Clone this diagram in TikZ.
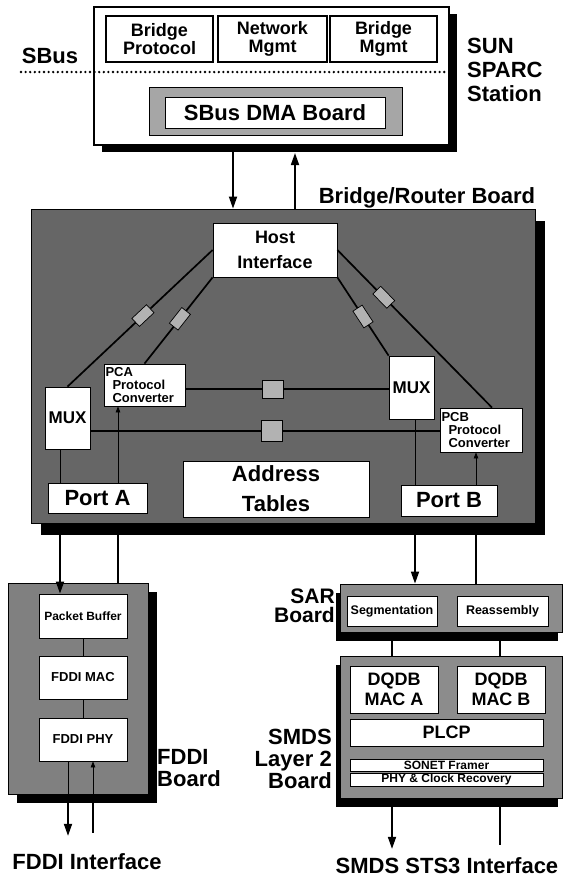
\documentclass[tikz,border=0pt]{standalone}
\usepackage{fontspec}
\setmainfont{Liberation Sans}
\usetikzlibrary{arrows.meta, shadows}

\newcommand{\fs}[2]{\fontsize{#1}{#2}\selectfont\bfseries}

\begin{document}
\begin{tikzpicture}[x=1pt, y=-1pt,
    box/.style={draw, fill=white, line width=0.8pt, inner sep=0pt, align=center},
    topbox/.style={box, line width=2.6pt, minimum height=46pt, font=\fs{18}{18}},
    board/.style={draw, line width=0.8pt, fill=black!55, inner sep=0pt},
    boardshadow/.style={drop shadow={shadow xshift=#1, shadow yshift=-9pt, fill=black, opacity=1}},
    lnk/.style={draw, line width=0.7pt, fill=black!30, minimum width=20pt, minimum height=11pt, inner sep=0pt},
    bus/.style={line width=1.7pt},
    wire/.style={line width=0.8pt},
    tip/.style={-{Triangle[length=12pt,width=8pt]}},
    smalltip/.style={-{Triangle[length=6pt,width=4.5pt]}},
    lbl/.style={inner sep=0pt, font=\fs{22}{22}}]

    \path[use as bounding box, fill=white] (0,0) rectangle (565,876);

    % columns of the vertical connectors
    \coordinate (ca) at (233,0);
    \coordinate (cb) at (295,0);
    \coordinate (cc) at (60,0);
    \coordinate (cd) at (118,0);
    \coordinate (ce) at (415,0);
    \coordinate (cf) at (476,0);
    \coordinate (cg) at (68,0);
    \coordinate (ch) at (93,0);
    \coordinate (ci) at (392,0);
    \coordinate (cj) at (500,0);
    \coordinate (ya) at (0,389);
    \coordinate (yb) at (0,431);

    % SUN SPARC station
    \node[draw, line width=2pt, fill=white, minimum width=355pt, minimum height=138pt,
          drop shadow={shadow xshift=8pt, shadow yshift=-7pt, fill=black, opacity=1}] (sun) at (271.5,76) {};
    \node[topbox, minimum width=107pt] (bp) at (159.5,39) {Bridge\\Protocol};
    \node[topbox, minimum width=109pt] (nm) at (272.5,39) {Network\\Mgmt};
    \node[topbox, minimum width=107pt] (bm) at (383.5,39) {Bridge\\Mgmt};
    \coordinate (sbl) at (21,72);
    \coordinate (sbr) at (445,72);
    \draw[line width=2.6pt, line cap=round, dash pattern=on 0pt off 4.6pt] (sbl) -- (sbr);
    \node[draw, line width=0.8pt, fill=black!35, minimum width=253pt, minimum height=48pt] (dma) at (275.5,111) {};
    \node[box, minimum width=220pt, minimum height=31pt, font=\fs{22}{22}] (dmab) at (275,112.5) {SBus DMA Board};

    \node[lbl, anchor=base] (sbus) at (50,63) {SBus};
    \node[lbl, anchor=north west, align=left, font=\fs{22}{24}] (sunl) at (467,38) {SUN\\SPARC\\Station};
    \node[lbl, anchor=base] (brl) at (427,203) {Bridge/Router Board};

    % bridge/router board
    \node[board, fill=black!60, minimum width=504pt, minimum height=314pt,
          drop shadow={shadow xshift=10pt, shadow yshift=-12pt, fill=black, opacity=1}] (brb) at (283,366) {};
    \node[box, minimum width=124pt, minimum height=54pt, font=\fs{18}{25}] (hif) at (275,250) {Host\\Interface};
    \node[box, minimum width=45pt, minimum height=62pt, font=\fs{17}{17}] (mux1) at (67.5,418) {MUX};
    \node[box, align=left, text width=78pt, minimum width=81pt, minimum height=42pt, font=\fs{13}{13}] (pca) at (144.5,385) {PCA\\\hspace*{7pt}Protocol\\\hspace*{7pt}Converter};
    \node[box, minimum width=45pt, minimum height=63pt, font=\fs{17}{17}] (mux2) at (411.5,387.5) {MUX};
    \node[box, align=left, text width=79pt, minimum width=82pt, minimum height=44pt, font=\fs{13}{13}] (pcb) at (481,430) {PCB\\\hspace*{7pt}Protocol\\\hspace*{7pt}Converter};
    \node[box, minimum width=99pt, minimum height=30pt, font=\fs{22}{22}] (porta) at (97.5,498) {Port A};
    \node[box, minimum width=96pt, minimum height=31pt, font=\fs{22}{22}] (portb) at (449,500.5) {Port B};
    \node[box, minimum width=186pt, minimum height=56pt, font=\fs{22}{30}] (addr) at (276,489) {Address\\Tables};

    \draw[bus] (hif.west) -- node[lnk, sloped, pos=.48] {} (mux1.north);
    \draw[bus] (hif.south west) -- node[lnk, sloped, pos=.48] {} (pca.north);
    \draw[bus] (hif.south east) -- node[lnk, sloped, pos=.5] {} (mux2.north west);
    \draw[bus] (hif.east) -- node[lnk, sloped, pos=.3] {} ([xshift=11pt]pcb.north);
    \draw[bus] (pca.east |- ya) -- node[lnk, minimum width=21pt, minimum height=18pt, pos=.43] (sqa) {} (mux2.west |- ya);
    \draw[bus] (mux1.east |- yb) -- node[lnk, minimum width=21pt, minimum height=21pt, pos=.52] (sqb) {} (pcb.west |- yb);
    \draw[wire] (mux1.south -| cc) -- (porta.north -| cc);
    \draw[wire, smalltip] (porta.north -| cd) -- (pca.south -| cd);
    \draw[wire] (mux2.south -| ce) -- (portb.north -| ce);
    \draw[wire, smalltip] (portb.north -| cf) -- (pcb.south -| cf);

    % FDDI board
    \node[board, fill=black!50, minimum width=140pt, minimum height=211pt,
          drop shadow={shadow xshift=9pt, shadow yshift=-9pt, fill=black, opacity=1}] (fddi) at (78,688.5) {};
    \node[box, minimum width=88pt, minimum height=44pt, font=\fs{12}{12}] (pb) at (83,616) {Packet Buffer};
    \node[box, minimum width=88pt, minimum height=43pt, font=\fs{13}{13}] (mac) at (83,677.5) {FDDI MAC};
    \node[box, minimum width=88pt, minimum height=43pt, font=\fs{13}{13}] (phy) at (83,739.5) {FDDI PHY};
    \draw[wire] (pb) -- (mac);
    \draw[wire] (mac) -- (phy);
    \node[lbl, anchor=north west, align=left] (fddil) at (157,749) {FDDI\\Board};
    \node[lbl, anchor=base] (fif) at (87,869) {FDDI Interface};

    % SAR board
    \node[board, fill=black!45, minimum width=222pt, minimum height=48pt, boardshadow=-4pt] (sar) at (451,608) {};
    \node[box, minimum width=90pt, minimum height=30pt, font=\fs{12.5}{12.5}] (seg) at (392,611) {Segmentation};
    \node[box, minimum width=91pt, minimum height=30pt, font=\fs{12.5}{12.5}] (rea) at (502.5,611) {Reassembly};
    \node[lbl, anchor=north east, align=right, font=\fs{21}{19}] (sarl) at (335,589) {SAR\\Board};

    % SMDS layer 2 board
    \node[board, fill=black!45, minimum width=222pt, minimum height=142pt, boardshadow=-4pt] (smds) at (451,727) {};
    \node[box, minimum width=88pt, minimum height=47pt, font=\fs{18}{20}] (maca) at (394,689.5) {DQDB\\MAC A};
    \node[box, minimum width=88pt, minimum height=47pt, font=\fs{18}{20}] (macb) at (501,689.5) {DQDB\\MAC B};
    \node[box, minimum width=193pt, minimum height=27pt, font=\fs{18}{18}] (plcp) at (446.5,732.5) {PLCP};
    \node[box, minimum width=193pt, minimum height=12pt, font=\fs{12}{12}] (sonet) at (446.5,765) {SONET Framer};
    \node[box, minimum width=193pt, minimum height=13pt, font=\fs{12}{12}] (phyc) at (446.5,779.5) {PHY \& Clock Recovery};
    \node[lbl, anchor=north east, align=right] (smdsl) at (332,729) {SMDS\\Layer 2\\Board};
    \node[lbl, anchor=base] (sif) at (447,873) {SMDS STS3 Interface};

    % connectors between the boards
    \draw[bus, tip] (sun.south -| ca) -- (brb.north -| ca);
    \draw[bus, tip, shorten >=7pt] (brb.north -| cb) -- (sun.south -| cb);
    \draw[bus, tip] (brb.south -| cc) -- (pb.north -| cc);
    \draw[bus] (fddi.north -| cd) -- (brb.south -| cd);
    \draw[bus, tip] (brb.south -| ce) -- (sar.north -| ce);
    \draw[bus] (sar.north -| cf) -- (brb.south -| cf);
    \draw[bus] (sar.south -| ci) -- (smds.north -| ci);
    \draw[bus] (sar.south -| cj) -- (smds.north -| cj);
    \draw[wire] (phy.south -| cg) -- (fddi.south -| cg);
    \draw[bus, tip, shorten >=17pt] (fddi.south -| cg) -- (fif.north -| cg);
    \draw[bus, shorten <=20pt] (fif.north -| ch) -- (fddi.south -| ch);
    \draw[wire, smalltip] (fddi.south -| ch) -- (phy.south -| ch);
    \draw[bus, tip, shorten >=8pt] (smds.south -| ci) -- (sif.north -| ci);
    \draw[bus, shorten <=12pt] (sif.north -| cj) -- (smds.south -| cj);
\end{tikzpicture}
\end{document}
